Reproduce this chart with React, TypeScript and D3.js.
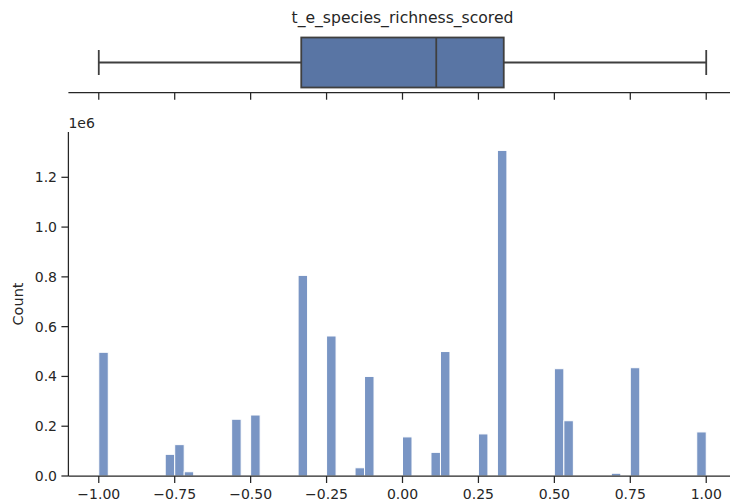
import React from "react";
import * as d3 from "d3";

// Histogram bins (left edges, width = 1/32) and counts (×1e6)
const binLefts = [-1, -0.78125, -0.75, -0.71875, -0.5625, -0.5, -0.34375, -0.25, -0.15625, -0.125, 0, 0.09375, 0.125, 0.25, 0.3125, 0.5, 0.53125, 0.6875, 0.75, 0.96875];
const binCounts = [0.497, 0.087, 0.126, 0.017, 0.228, 0.245, 0.806, 0.5625, 0.033, 0.4, 0.157, 0.095, 0.5, 0.169, 1.308, 0.431, 0.222, 0.011, 0.435, 0.177];
const binWidth = 1 / 32;

// Box plot stats
const boxStats = { whiskerLow: -1, q1: -1 / 3, median: 1 / 9, q3: 1 / 3, whiskerHigh: 1 };

const xTicks = [-1, -0.75, -0.5, -0.25, 0, 0.25, 0.5, 0.75, 1];
const yTicks = [0, 0.2, 0.4, 0.6, 0.8, 1.0, 1.2];

const W = 730;
const H = 504;
const FONT = "'DejaVu Sans', sans-serif";
const INK = "#262626";

export default function App() {
  const x = d3.scaleLinear().domain([-1.1, 1.1]).range([68.4, 736.6]);
  const y = d3.scaleLinear().domain([0, 1.382]).range([476, 132]);
  const fmtX = (v: number) => d3.format(".2f")(v).replace("-", "\u2212");
  const fmtY = (v: number) => d3.format(".1f")(v);

  const boxTop = 37.5;
  const boxBot = 87.5;
  const boxMid = (boxTop + boxBot) / 2;
  const topAxisY = 92.7;

  return (
    <div style={{ position: "fixed", left: 0, top: 0 }}>
      <svg width={W} height={H} style={{ display: "block", background: "#fff" }} fontFamily={FONT}>
        {/* Title */}
        <text x={402.5} y={23} textAnchor="middle" fontSize={15.6} fill={INK}>
          t_e_species_richness_scored
        </text>

        {/* Box plot */}
        <g stroke="#3f3f3f" strokeWidth={1.8} fill="none">
          <line x1={x(boxStats.whiskerLow)} x2={x(boxStats.q1)} y1={boxMid} y2={boxMid} />
          <line x1={x(boxStats.q3)} x2={x(boxStats.whiskerHigh)} y1={boxMid} y2={boxMid} />
          <line x1={x(boxStats.whiskerLow)} x2={x(boxStats.whiskerLow)} y1={boxMid - 12.5} y2={boxMid + 12.5} />
          <line x1={x(boxStats.whiskerHigh)} x2={x(boxStats.whiskerHigh)} y1={boxMid - 12.5} y2={boxMid + 12.5} />
          <rect x={x(boxStats.q1)} y={boxTop} width={x(boxStats.q3) - x(boxStats.q1)} height={boxBot - boxTop} fill="#5975a4" />
          <line x1={x(boxStats.median)} x2={x(boxStats.median)} y1={boxTop} y2={boxBot} />
        </g>

        {/* Top axis */}
        <g stroke={INK} strokeWidth={1.25}>
          <line x1={68.4} x2={W} y1={topAxisY} y2={topAxisY} />
          {xTicks.map((t) => (
            <line key={t} x1={x(t)} x2={x(t)} y1={topAxisY} y2={topAxisY + 7} />
          ))}
        </g>

        {/* Histogram bars */}
        <g fill="#7995c4" stroke="#fff" strokeWidth={1}>
          {binLefts.map((l, i) => (
            <rect key={i} x={x(l)} y={y(binCounts[i])} width={x(l + binWidth) - x(l)} height={y(0) - y(binCounts[i])} />
          ))}
        </g>

        {/* Bottom axis */}
        <g stroke={INK} strokeWidth={1.25}>
          <line x1={68.4} x2={W} y1={476} y2={476} />
          <line x1={68.4} x2={68.4} y1={132} y2={476} />
          {xTicks.map((t) => (
            <line key={t} x1={x(t)} x2={x(t)} y1={476} y2={483} />
          ))}
          {yTicks.map((t) => (
            <line key={t} x1={68.4} x2={61.4} y1={y(t)} y2={y(t)} />
          ))}
        </g>
        <g fontSize={14} fill={INK}>
          {xTicks.map((t) => (
            <text key={t} x={x(t)} y={499} textAnchor="middle">
              {fmtX(t)}
            </text>
          ))}
          {yTicks.map((t) => (
            <text key={t} x={57} y={y(t) + 5} textAnchor="end">
              {fmtY(t)}
            </text>
          ))}
          <text x={68.4} y={128} textAnchor="start">1e6</text>
          <text transform={`translate(23,${(132 + 476) / 2}) rotate(-90)`} textAnchor="middle" fontSize={14.5}>Count</text>
        </g>
      </svg>
    </div>
  );
}
